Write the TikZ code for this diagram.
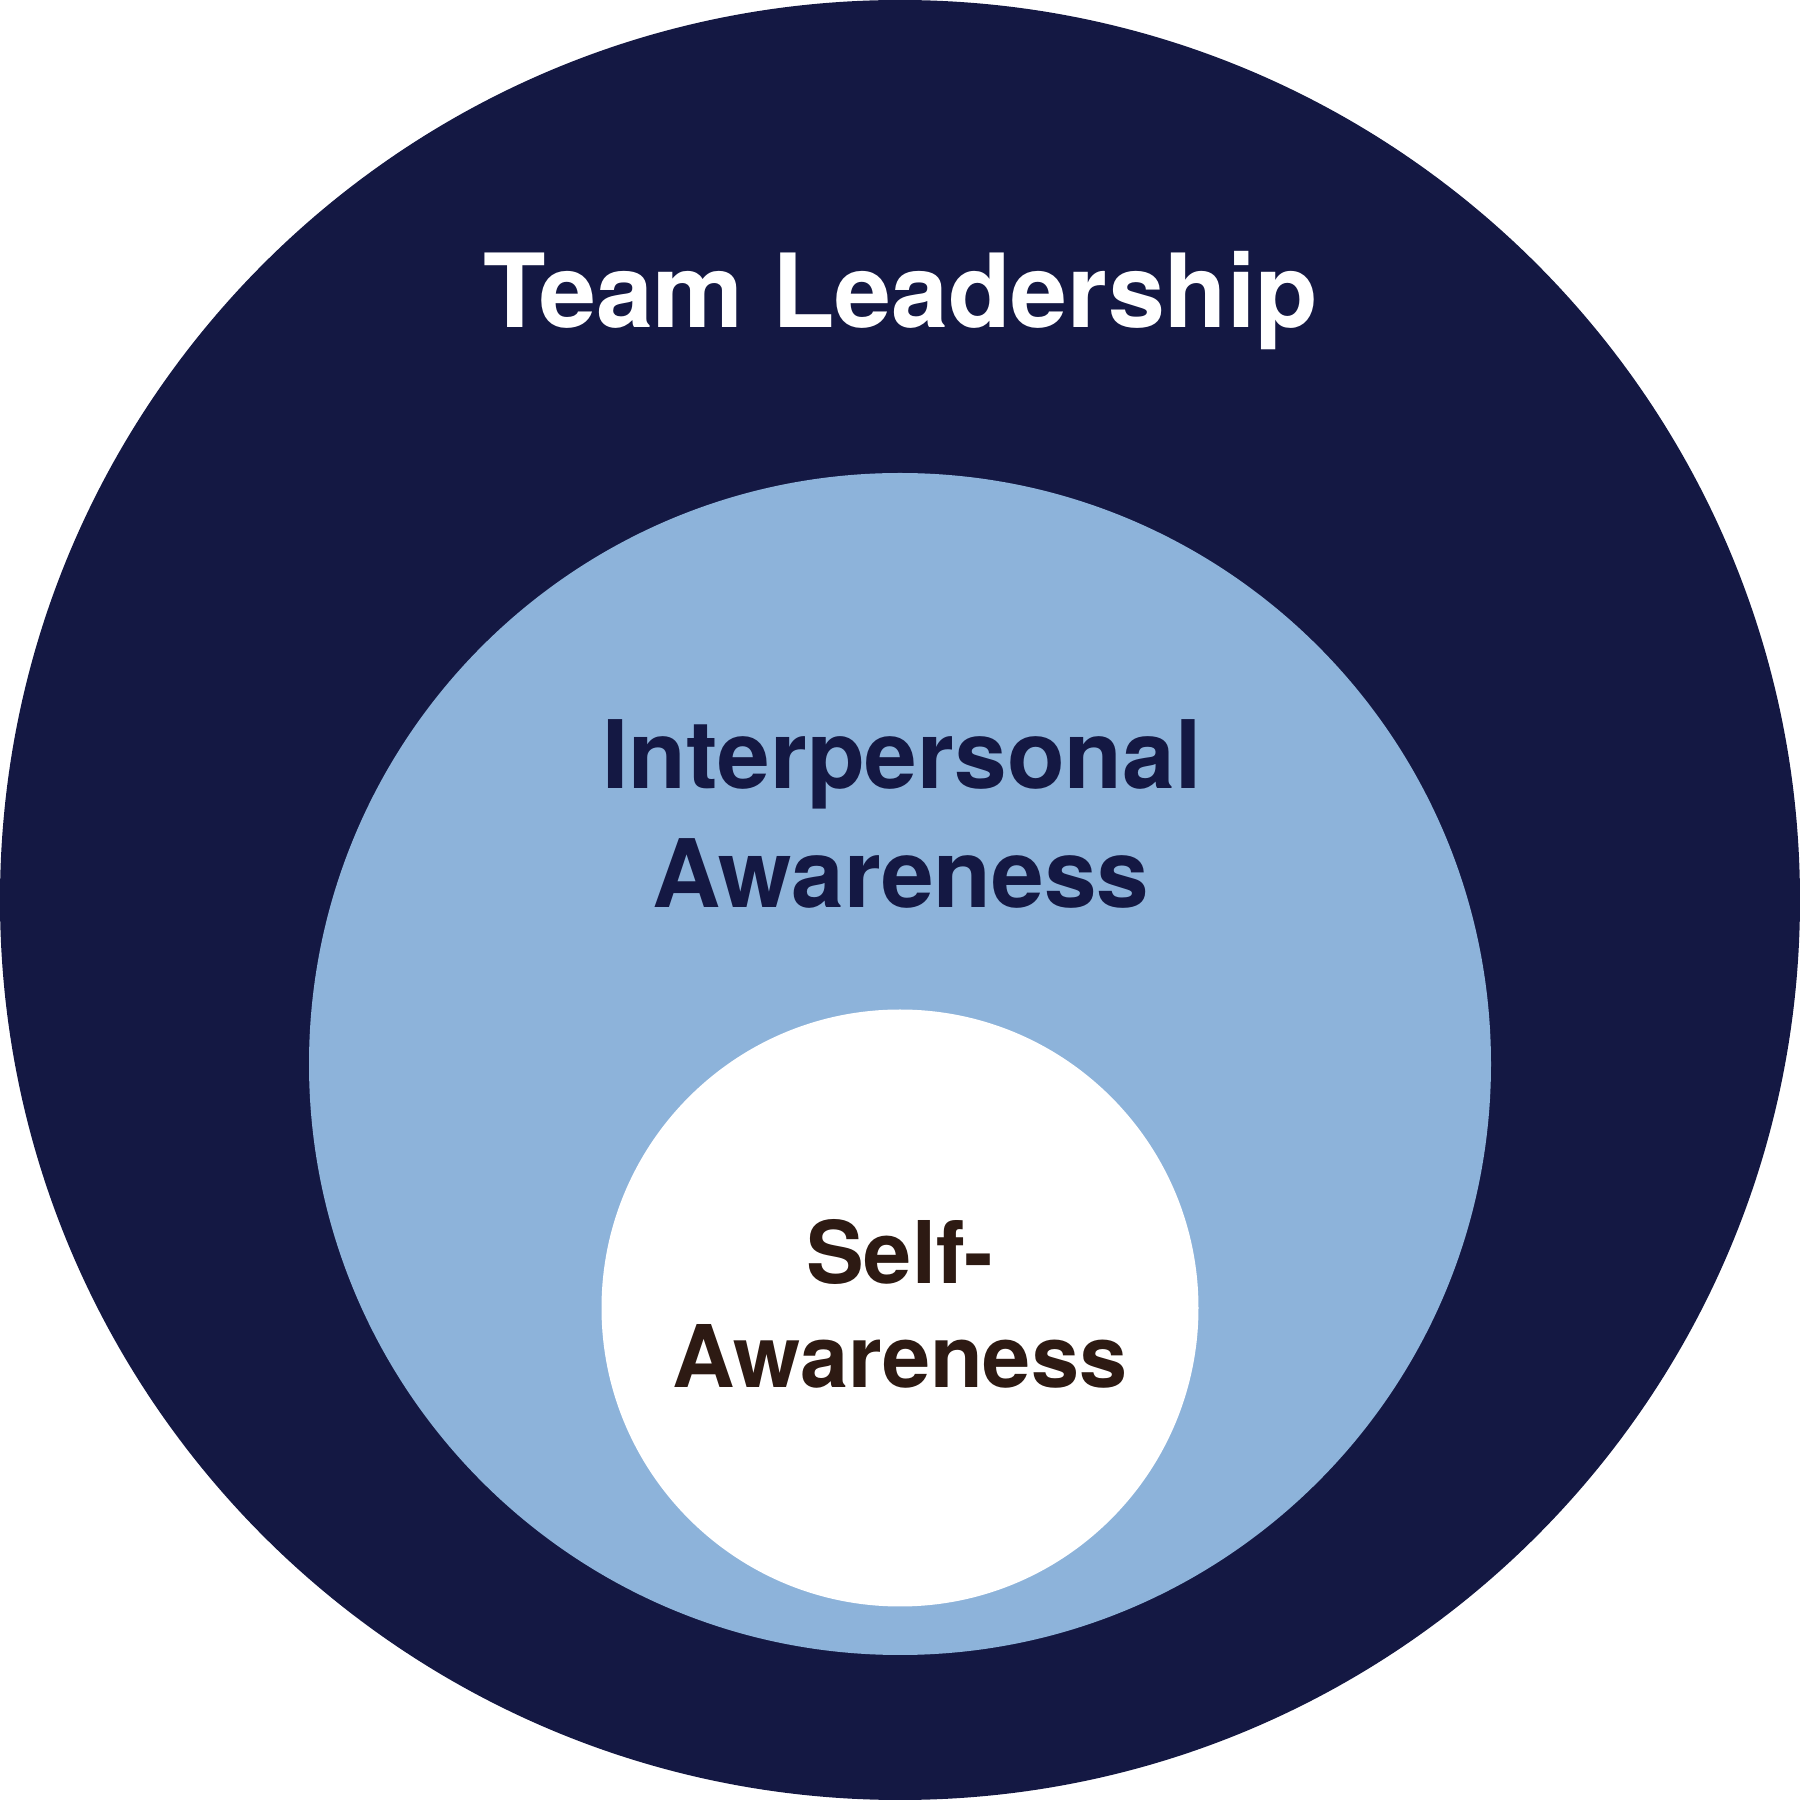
\documentclass[tikz,border=0pt]{standalone}
\usepackage{fontspec}
\setmainfont{TeX Gyre Heros}
\definecolor{navy}{HTML}{141843}
\definecolor{lightblue}{HTML}{8DB3DA}
\definecolor{darkbrown}{HTML}{2D1A13}
\begin{document}
\begin{tikzpicture}
\tikzset{
  ring/.style={circle, inner sep=0pt, outer sep=0pt},
  lbl/.style={anchor=base, inner sep=0pt, font=\bfseries}
}
\useasboundingbox (0,0) rectangle (18,18);
\node[ring, fill=navy, minimum size=18cm] (outer) at (9,9) {};
\node[ring, fill=lightblue, minimum size=11.82cm] (middle) at (9,7.36) {};
\node[ring, fill=white, minimum size=5.97cm] (inner) at (9,4.92) {};
\node[lbl, text=white, font=\bfseries\fontsize{29.1}{34}\selectfont] (team) at (9.01,14.72) {Team Leadership};
\node[lbl, text=navy, font=\bfseries\fontsize{26.9}{32}\selectfont] (inter1) at (9.02,10.11) {Interpersonal};
\node[lbl, text=navy, font=\bfseries\fontsize{26.9}{32}\selectfont] (inter2) at (9.01,8.92) {Awareness};
\node[lbl, text=darkbrown, font=\bfseries\fontsize{24.6}{30}\selectfont] (self1) at (9,5.16) {Self-};
\node[lbl, text=darkbrown, font=\bfseries\fontsize{24.6}{30}\selectfont] (self2) at (9,4.12) {Awareness};
\end{tikzpicture}
\end{document}
